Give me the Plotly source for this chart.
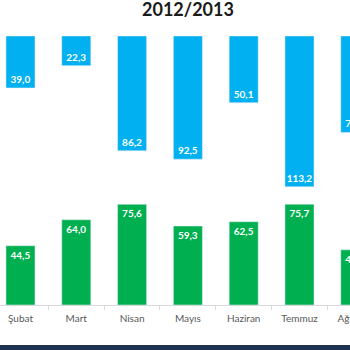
import plotly.graph_objects as go

# Monthly figures for the 2012/2013 season
months = ["Şubat", "Mart", "Nisan", "Mayıs", "Haziran", "Temmuz", "Ağustos"]
upper_values = [39.0, 22.3, 86.2, 92.5, 50.1, 113.2, 72.4]   # blue, hanging from the top
lower_values = [44.5, 64.0, 75.6, 59.3, 62.5, 75.7, 41.4]    # green, rising from the axis

BLUE = "#00B0F0"
GREEN = "#00B050"
AXIS_SPAN = 202          # value span shared by both vertical axes
FONT = "Lato"

label_font = dict(family=FONT, size=10, color="white")

fig = go.Figure()

fig.add_trace(go.Bar(
    x=months, y=lower_values, marker_color=GREEN, yaxis="y",
    texttemplate="<b>%{y:.1f}</b>", textposition="inside", insidetextanchor="end",
    textangle=0, textfont=label_font,
    cliponaxis=True, showlegend=False, hoverinfo="skip",
))
fig.add_trace(go.Bar(
    x=months, y=upper_values, marker_color=BLUE, yaxis="y2",
    texttemplate="<b>%{y:.1f}</b>", textposition="inside", insidetextanchor="end",
    textangle=0, textfont=label_font,
    cliponaxis=True, showlegend=False, hoverinfo="skip",
))

fig.update_layout(
    width=390, height=350,
    margin=dict(l=0, r=0, t=36, b=45),
    paper_bgcolor="white", plot_bgcolor="white",
    separators=",.",
    barmode="overlay", bargap=0.48,
    uniformtext=dict(minsize=10, mode="show"),
    title=dict(text="<b>2012/2013</b>", x=188 / 390, xanchor="center",
               y=1 - 10 / 350, yanchor="middle",
               font=dict(family=FONT, size=18, color="#1a1a1a")),
    xaxis=dict(
        type="category", range=[-0.367, 6.622],
        showline=True, linecolor="#d9d9d9", linewidth=1,
        ticks="outside", tickson="boundaries", ticklen=4, tickcolor="#d9d9d9",
        ticklabelstandoff=4,
        tickfont=dict(family=FONT, size=10, color="#595959"),
        showgrid=False, zeroline=False,
    ),
    yaxis=dict(range=[0, AXIS_SPAN], visible=False, showgrid=False, zeroline=False),
    yaxis2=dict(range=[AXIS_SPAN, 0], overlaying="y", visible=False,
                showgrid=False, zeroline=False),
    shapes=[dict(type="rect", xref="paper", yref="paper",
                 x0=0, x1=1, y0=-50 / 269, y1=-40 / 269,
                 fillcolor="#1E3352", line_width=0, layer="above")],
)

fig.write_html(
    "out.html",
    post_script="document.documentElement.style.overflow='hidden';"
                "document.body.style.overflow='hidden';"
                "document.body.style.margin='0';",
)
